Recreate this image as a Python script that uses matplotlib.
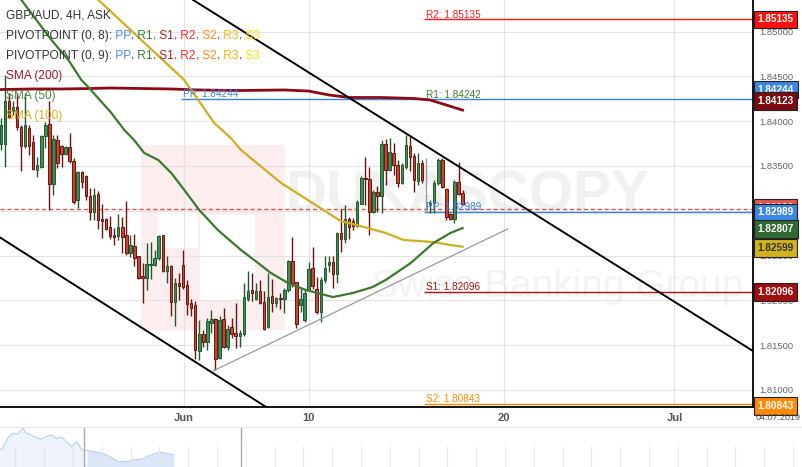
import numpy as np
import matplotlib.pyplot as plt
from matplotlib.patches import Rectangle

plt.rcParams['font.family'] = ['Liberation Sans', 'DejaVu Sans']

# GBP/AUD 4H candles, bar index counted from the left edge of the chart
opens = [1.8375, 1.8375, 1.8422, 1.8411, 1.8416, 1.8394, 1.8372, 1.8392, 1.8377, 1.8345,
         1.8349, 1.8383, 1.8397, 1.8330, 1.8379, 1.8372, 1.8363, 1.8371, 1.8356, 1.8312,
         1.8343, 1.8339, 1.8316, 1.8299, 1.8319, 1.8291, 1.8291, 1.8282, 1.8273, 1.8272,
         1.8282, 1.8273, 1.8253, 1.8261, 1.8249, 1.8227, 1.8225, 1.8239, 1.8239, 1.8247,
         1.8273, 1.8233, 1.8238, 1.8198, 1.8219, 1.8240, 1.8217, 1.8197, 1.8195, 1.8144,
         1.8163, 1.8154, 1.8175, 1.8179, 1.8136, 1.8179, 1.8148, 1.8170, 1.8164, 1.8160,
         1.8163, 1.8202, 1.8212, 1.8202, 1.8211, 1.8198, 1.8170, 1.8205, 1.8197, 1.8203,
         1.8201, 1.8212, 1.8244, 1.8220, 1.8195, 1.8178, 1.8212, 1.8236, 1.8213, 1.8187,
         1.8223, 1.8239, 1.8243, 1.8229, 1.8275, 1.8269, 1.8291, 1.8289, 1.8283, 1.8308,
         1.8337, 1.8335, 1.8299, 1.8321, 1.8317, 1.8375, 1.8346, 1.8365, 1.8351, 1.8331,
         1.8349, 1.8372, 1.8361, 1.8333, 1.8353, 1.8307, 1.8307, 1.8309, 1.8331, 1.8357,
         1.8324, 1.8296, 1.8291, 1.8332, 1.8320]
highs = [1.8404, 1.8452, 1.8431, 1.8422, 1.8431, 1.8396, 1.8431, 1.8396, 1.8385, 1.8360,
         1.8385, 1.8399, 1.8422, 1.8385, 1.8385, 1.8373, 1.8372, 1.8387, 1.8359, 1.8344,
         1.8344, 1.8340, 1.8325, 1.8325, 1.8322, 1.8308, 1.8292, 1.8294, 1.8281, 1.8296,
         1.8293, 1.8311, 1.8273, 1.8274, 1.8250, 1.8242, 1.8264, 1.8265, 1.8256, 1.8273,
         1.8273, 1.8249, 1.8239, 1.8225, 1.8230, 1.8256, 1.8223, 1.8202, 1.8199, 1.8178,
         1.8167, 1.8180, 1.8189, 1.8180, 1.8182, 1.8191, 1.8173, 1.8180, 1.8197, 1.8167,
         1.8219, 1.8233, 1.8230, 1.8219, 1.8223, 1.8211, 1.8230, 1.8224, 1.8204, 1.8208,
         1.8214, 1.8245, 1.8271, 1.8221, 1.8215, 1.8213, 1.8243, 1.8260, 1.8226, 1.8226,
         1.8249, 1.8249, 1.8249, 1.8276, 1.8302, 1.8306, 1.8293, 1.8292, 1.8312, 1.8339,
         1.8360, 1.8349, 1.8323, 1.8328, 1.8379, 1.8380, 1.8381, 1.8376, 1.8357, 1.8353,
         1.8385, 1.8383, 1.8364, 1.8364, 1.8357, 1.8359, 1.8312, 1.8334, 1.8359, 1.8359,
         1.8325, 1.8297, 1.8334, 1.8354, 1.8323]
lows = [1.8368, 1.8349, 1.8403, 1.8407, 1.8390, 1.8344, 1.8370, 1.8362, 1.8345, 1.8338,
        1.8348, 1.8370, 1.8301, 1.8318, 1.8348, 1.8349, 1.8362, 1.8353, 1.8308, 1.8303,
        1.8325, 1.8312, 1.8290, 1.8290, 1.8280, 1.8270, 1.8279, 1.8269, 1.8262, 1.8267,
        1.8253, 1.8251, 1.8248, 1.8238, 1.8224, 1.8197, 1.8212, 1.8224, 1.8238, 1.8245,
        1.8232, 1.8219, 1.8182, 1.8171, 1.8200, 1.8213, 1.8184, 1.8182, 1.8135, 1.8133,
        1.8148, 1.8145, 1.8164, 1.8122, 1.8135, 1.8147, 1.8145, 1.8158, 1.8147, 1.8148,
        1.8160, 1.8199, 1.8199, 1.8200, 1.8196, 1.8167, 1.8169, 1.8187, 1.8193, 1.8190,
        1.8186, 1.8209, 1.8215, 1.8169, 1.8187, 1.8176, 1.8211, 1.8213, 1.8185, 1.8176,
        1.8219, 1.8232, 1.8214, 1.8219, 1.8254, 1.8264, 1.8269, 1.8279, 1.8282, 1.8307,
        1.8306, 1.8273, 1.8297, 1.8299, 1.8297, 1.8329, 1.8344, 1.8340, 1.8327, 1.8330,
        1.8347, 1.8344, 1.8321, 1.8329, 1.8331, 1.8298, 1.8297, 1.8297, 1.8329, 1.8325,
        1.8290, 1.8290, 1.8286, 1.8318, 1.8306]
closes = [1.8396, 1.8422, 1.8405, 1.8416, 1.8394, 1.8372, 1.8396, 1.8372, 1.8347, 1.8351,
          1.8383, 1.8396, 1.8330, 1.8380, 1.8353, 1.8363, 1.8371, 1.8355, 1.8310, 1.8343,
          1.8332, 1.8316, 1.8299, 1.8318, 1.8290, 1.8289, 1.8280, 1.8272, 1.8271, 1.8282,
          1.8271, 1.8253, 1.8262, 1.8247, 1.8225, 1.8225, 1.8241, 1.8241, 1.8247, 1.8272,
          1.8233, 1.8238, 1.8198, 1.8219, 1.8216, 1.8215, 1.8196, 1.8192, 1.8145, 1.8163,
          1.8154, 1.8177, 1.8179, 1.8135, 1.8178, 1.8148, 1.8168, 1.8163, 1.8160, 1.8164,
          1.8204, 1.8211, 1.8208, 1.8210, 1.8197, 1.8168, 1.8204, 1.8197, 1.8203, 1.8201,
          1.8212, 1.8244, 1.8219, 1.8174, 1.8202, 1.8208, 1.8235, 1.8216, 1.8187, 1.8223,
          1.8236, 1.8243, 1.8229, 1.8275, 1.8269, 1.8291, 1.8282, 1.8283, 1.8310, 1.8337,
          1.8335, 1.8299, 1.8321, 1.8317, 1.8375, 1.8346, 1.8366, 1.8351, 1.8331, 1.8351,
          1.8373, 1.8360, 1.8334, 1.8353, 1.8334, 1.8307, 1.8309, 1.8331, 1.8357, 1.8327,
          1.8293, 1.8291, 1.8332, 1.8319, 1.8308]

# moving averages (bar index, price)
sma200_idx = [0, 8, 15, 22, 27, 35, 42, 49, 59, 70, 76, 81, 86, 94, 102, 106, 110, 114]
sma200_val = [1.84353, 1.84359, 1.84359, 1.84364, 1.84370, 1.84364, 1.84359, 1.84348, 1.84342,
              1.84348, 1.84336, 1.84292, 1.84264, 1.84264, 1.84253, 1.84236, 1.84180, 1.84123]
sma50_idx = [2.6, 5.1, 12.5, 16.7, 19.9, 21.6, 27.3, 30.5, 32.9, 35.4, 38.9, 42.1, 45.3, 49.0,
             53.6, 59.3, 63.5, 66.7, 70.9, 75.3, 82.0, 86.9, 91.8, 95.0, 101.2, 106.8, 111.0, 114.0]
sma50_val = [1.85464, 1.85352, 1.84906, 1.84682, 1.84459, 1.84381, 1.84091, 1.83901, 1.83790,
             1.83645, 1.83566, 1.83421, 1.83232, 1.83008, 1.82785, 1.82562, 1.82417, 1.82305,
             1.82194, 1.82116, 1.82037, 1.82082, 1.82149, 1.82227, 1.82417, 1.82640, 1.82752, 1.82807]
sma100_idx = [22.4, 24.1, 34.7, 45.3, 52.7, 56.8, 59.3, 69.2, 75.8, 83.9, 90.6, 95.0, 99.4,
              106.8, 111.0, 114.0]
sma100_val = [1.85441, 1.85352, 1.84906, 1.84459, 1.83979, 1.83812, 1.83678, 1.83310, 1.83120,
              1.82886, 1.82808, 1.82752, 1.82674, 1.82651, 1.82618, 1.82599]

# drawn trend lines: two anchor points each (bar index, price)
upper_channel = [(47.5, 1.85352), (185.7, 1.81435)]
lower_channel = [(0.2, 1.82691), (65.5, 1.80810)]
support_line = [(52.4, 1.81212), (125.1, 1.82796)]

# pivot points
old_pp = 1.84244
old_pp_start = 44.6
pivot_names = ['R2', 'R1', 'S1', 'S2', 'PP']
pivot_vals = [1.85135, 1.84242, 1.82096, 1.80843, 1.82989]
pivot_start = 104.6
last_price = 1.83020

tick_pos = [45.3, 76.0, 124.2, 166.3]
tick_labels = ['Jun', '10', '20', 'Jul']
price_ticks = [1.810, 1.815, 1.820, 1.825, 1.830, 1.835, 1.840, 1.845, 1.850]

# overview strip at the bottom
nav_x = [0, 2.6, 7.7, 12.8, 17.9, 23.0, 26.6, 30.7, 35.8, 41.0, 46.0, 51.2, 56.3, 61.4, 66.6,
         71.7, 76.8, 81.9, 87.0, 94.7, 102.4, 110.0, 117.8, 125.4, 133.0, 140.8, 148.5, 156.2,
         161.3, 166.4, 174.0]
nav_y = [17, 18.7, 28.7, 33.7, 33, 38.7, 33.7, 32, 29.7, 27.7, 30.3, 32, 28.7, 29.7, 25.3,
         20.3, 25.3, 17, 16.3, 15.3, 13.7, 10.3, 5.3, 5.3, 7, 7.7, 11, 13.7, 14.7, 13.7, 12]
nav_window = (84.5, 240.7)

W, H = 803, 467
fig = plt.figure(figsize=(W / 100, H / 100), dpi=100)
ax = fig.add_axes([0, 60 / H, 753 / W, 407 / H])
ax.set_xlim(-0.19, 185.7)
ax.set_ylim(1.80810, 1.85352)


def px(x, y):
    # figure pixel (from top-left) -> figure fraction
    return x / W, 1 - y / H


# watermark (logo block + company name), kept under the grid
ax.add_patch(Rectangle(px(141, 330), 144 / W, 185 / H, transform=fig.transFigure,
                       fc='#fcedef', ec='none', zorder=0.1))
for x0, y0, w, h in [(200, 215, 55, 85), (158, 212, 40, 36)]:
    ax.add_patch(Rectangle(px(x0, y0 + h), w / W, h / H, transform=fig.transFigure,
                           fc='white', ec='none', zorder=0.15))
ax.text(*px(285, 196), 'DUKASCOPY', fontsize=41, fontweight='bold', color='#f1f1f1',
        va='center', ha='left', transform=fig.transFigure, zorder=0.2)
ax.text(*px(372, 287), 'Swiss Banking Group', fontsize=28, color='#f3f3f3',
        va='center', ha='left', transform=fig.transFigure, zorder=0.2)

for s in ['top', 'left']:
    ax.spines[s].set_visible(False)
for s in ['right', 'bottom']:
    ax.spines[s].set_color('black')
    ax.spines[s].set_linewidth(1.3)

ax.yaxis.tick_right()
ax.set_yticks(price_ticks)
ax.set_yticklabels([f'{p:.5f}' for p in price_ticks])
ax.tick_params(axis='y', length=0, pad=4.5, labelsize=6.8, labelcolor='#666666')
ax.set_xticks(tick_pos)
ax.set_xticklabels(tick_labels, fontweight='bold')
ax.tick_params(axis='x', length=0, pad=4, labelsize=8, labelcolor='#555555')
ax.set_axisbelow(True)
ax.grid(color='#e3e3e3', lw=0.8)

# candles
idx = np.arange(len(opens))
o = np.array(opens)
c = np.array(closes)
up = c > o
down = c < o
flat = c == o
body_col = np.where(up, '#3f8d5d', np.where(down, '#c9452e', '#999999'))
edge_col = np.where(up, '#1f5a2c', np.where(down, '#6e1410', '#999999'))
ax.vlines(idx, lows, highs, colors=edge_col, lw=1, zorder=3)
ax.bar(idx[~flat], np.abs(c - o)[~flat], bottom=np.minimum(o, c)[~flat], width=0.62,
       color=body_col[~flat], edgecolor=edge_col[~flat], lw=0.7, zorder=4)

# moving averages
ax.plot(sma200_idx, sma200_val, color='#8b0a14', lw=2.0, zorder=5)
ax.plot(sma100_idx, sma100_val, color='#cfae22', lw=1.6, zorder=5)
ax.plot(sma50_idx, sma50_val, color='#3b7a2e', lw=1.6, zorder=5)

# trend lines
ax.axline(*upper_channel, color='black', lw=1.4, zorder=6)
ax.axline(*lower_channel, color='black', lw=1.4, zorder=6)
ax.plot(*zip(*support_line), color='#999999', lw=0.9, zorder=6)

# pivot lines
piv_colors = {'R2': '#ff1a1a', 'R1': '#3a7d2a', 'PP': '#3b80e0', 'S1': '#b00f0f', 'S2': '#ff8a00'}
ax.hlines(old_pp, old_pp_start, 185.7, color=piv_colors['PP'], lw=1, zorder=2)
ax.annotate(f'PP: {old_pp:.5f}', (old_pp_start, old_pp), xytext=(1, 1.3), textcoords='offset points',
            color=piv_colors['PP'], fontsize=7.2, va='baseline', zorder=7)
for name, val in zip(pivot_names, pivot_vals):
    if name != 'R1':
        ax.hlines(val, pivot_start, 185.7, color=piv_colors[name], lw=1, zorder=2)
    ax.annotate(f'{name}: {val:.5f}', (pivot_start, val), xytext=(1, 1.3), textcoords='offset points',
                color=piv_colors[name], fontsize=7.2, va='baseline', zorder=7)

ax.axhline(last_price, color='#d9534f', lw=1, ls=(0, (3, 2)), zorder=2)

# price boxes on the right axis
boxes = [(1.85135, '#ff1010', 'white', 0),
         (old_pp, '#3b86e8', 'white', 7),
         (1.84123, '#7d0b10', 'white', 6.5),
         (last_price, '#e2594d', 'white', 0.5),
         (1.82989, '#3b86e8', 'white', -0.5),
         (1.82807, '#2f6a30', 'white', -0.5),
         (1.82599, '#d2b21f', '#333333', -0.8),
         (1.82096, '#a30d0d', 'white', -0.3),
         (1.80843, '#ff8a00', 'white', -1.5)]
for val, fc, tc, dy in boxes:
    ax.annotate(f'{val:.5f}', (1, val), xycoords=('axes fraction', 'data'), xytext=(3.2, dy),
                textcoords='offset points', ha='left', va='center', fontsize=7.2, fontweight='bold',
                color=tc, annotation_clip=False, zorder=10,
                bbox=dict(boxstyle='square,pad=0.38', fc=fc, ec='#222222', lw=0.8))

fig.text(778 / W, 1 - 417 / H, '04.07.2019', fontsize=6.5, color='#555555', ha='center', va='center')


# legend rows
def row(y_px, parts, size=8.6):
    t = fig.text(6 / W, 1 - y_px / H, parts[0][0], color=parts[0][1], fontsize=size,
                 ha='left', va='center', zorder=8)
    for s, col in parts[1:]:
        t = ax.annotate(s, xy=(1, 0), xycoords=t, color=col, fontsize=size, ha='left',
                        va='bottom', annotation_clip=False, zorder=8)


row(16, [('GBP/AUD, 4H, ASK', '#333333')])
piv_parts = [('PP', '#4a8fe8'), ('R1', '#3a7d2a'), ('S1', '#b22222'), ('R2', '#ff2a2a'),
             ('S2', '#ff8c1a'), ('R3', '#f5b800'), ('S3', '#ffe000')]
for y_px, label in [(36, 'PIVOTPOINT (0, 8):'), (56, 'PIVOTPOINT (0, 9):')]:
    parts = [(label, '#333333')]
    for k, (nm, col) in enumerate(piv_parts):
        parts.append((' ' + nm, col))
        if k < len(piv_parts) - 1:
            parts.append((',', '#333333'))
    row(y_px, parts)
row(76, [('SMA (200)', '#9b1c2c')])
row(96, [('SMA (50)', '#4d8b3f')])
row(116, [('SMA (100)', '#d4b01a')])

# overview strip
nav = fig.add_axes([0, 0, 1, 40 / H])
nav.set_xlim(0, W)
nav.set_ylim(0, 40)
nav.set_xticks([])
nav.set_yticks([])
for s in ['left', 'right', 'bottom']:
    nav.spines[s].set_visible(False)
nav.spines['top'].set_color('#e6e6e6')
nx = np.array(nav_x)
ny = np.array(nav_y)
nav.fill_between(nx, 0, ny, where=nx <= nav_window[0], color='#eef3fc', lw=0, interpolate=True)
nav.fill_between(nx, 0, ny, where=nx >= nav_window[0], color='#dbe6f8', lw=0, interpolate=True)
nav.plot(nx, ny, color='#b8cdf0', lw=0.8)
for gx in np.arange(15.4, W, 28.8):
    nav.axvline(gx, ymax=0.5, color='#e6e6e6', lw=0.8)
for hx in nav_window:
    nav.axvline(hx, color='#aaaaaa', lw=1)

fig.savefig('out.png', dpi=100)
